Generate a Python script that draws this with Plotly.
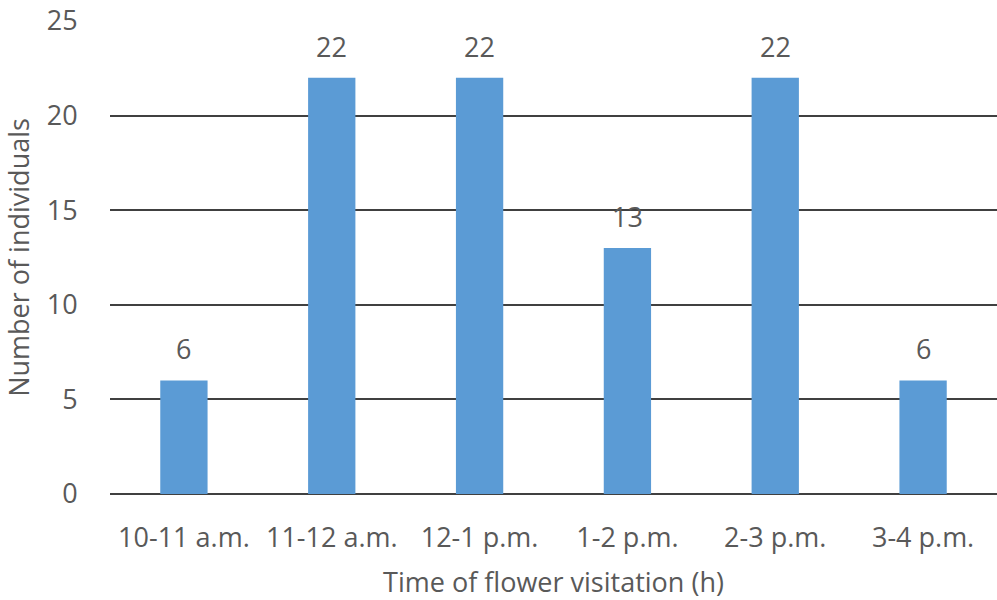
import plotly.graph_objects as go

# Flower visitation counts by hour slot
time_slots = ["10-11 a.m.", "11-12 a.m.", "12-1 p.m.", "1-2 p.m.", "2-3 p.m.", "3-4 p.m."]
individuals = [6, 22, 22, 13, 22, 6]
y_ticks = [0, 5, 10, 15, 20, 25]

text_color = "#595959"
font_family = "Open Sans, sans-serif"
font_size = 27

fig = go.Figure(
    go.Bar(
        x=time_slots,
        y=individuals,
        marker=dict(color="#5B9BD5", line=dict(width=0)),
        hoverinfo="x+y",
    )
)

# value labels floating above each bar
for slot, val in zip(time_slots, individuals):
    fig.add_annotation(
        x=slot, y=val, text=str(val), showarrow=False,
        yanchor="bottom", yshift=11,
        font=dict(family=font_family, size=font_size, color=text_color),
    )

fig.update_layout(
    width=997,
    height=600,
    margin=dict(l=110, r=0, t=21, b=106),
    paper_bgcolor="white",
    plot_bgcolor="white",
    bargap=0.68,
    showlegend=False,
    font=dict(family=font_family, size=font_size, color=text_color),
    xaxis=dict(
        title=dict(text="Time of flower visitation (h)", standoff=18,
                   font=dict(size=font_size, color=text_color)),
        tickfont=dict(size=font_size, color=text_color),
        showgrid=False,
        showline=False,
        ticks="outside",
        ticklen=20,
        tickcolor="rgba(0,0,0,0)",
    ),
    yaxis=dict(
        title=dict(text="Number of individuals", standoff=20,
                   font=dict(size=font_size, color=text_color)),
        range=[0, 25],
        tickvals=y_ticks,
        tickfont=dict(size=font_size, color=text_color),
        showgrid=True,
        gridcolor="#404040",
        gridwidth=2,
        zeroline=True,
        zerolinecolor="#404040",
        zerolinewidth=2,
        showline=False,
        ticks="outside",
        ticklen=26,
        tickcolor="rgba(0,0,0,0)",
    ),
)

fig.write_html("out.html")
